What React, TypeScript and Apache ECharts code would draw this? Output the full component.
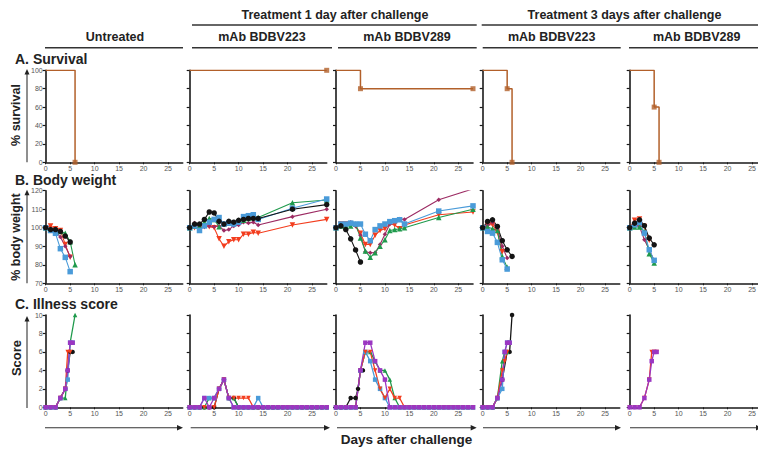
import React, { useEffect, useRef } from 'react';
import * as echarts from 'echarts';

const FONT = '"Liberation Sans", Arial, Helvetica, sans-serif';

// ---------- text ----------
const GROUP_HEADERS = ['Treatment 1 day after challenge', 'Treatment 3 days after challenge'];
const COL_HEADERS = ['Untreated', 'mAb BDBV223', 'mAb BDBV289', 'mAb BDBV223', 'mAb BDBV289'];
const ROW_TITLES = ['A. Survival', 'B. Body weight', 'C. Illness score'];
const Y_TITLES = ['% survival', '% body weight', 'Score'];
const X_TITLE = 'Days after challenge';

// ---------- survival (per column) ----------
const survDays = [[0, 6], [0, 28], [0, 5, 28], [0, 5, 6], [0, 5, 6]];
const survPct = [[100, 0], [100, 100], [100, 80, 80], [100, 80, 0], [100, 60, 0]];
const survMarkDays = [[6], [28], [5, 28], [5, 6], [5, 6]];
const survMarkPct = [[0], [100], [80, 80], [80, 0], [60, 0]];

// ---------- body weight ----------
// series order: black, blue, green, maroon, red
const bwDaysShort = [0, 1, 2, 3, 4, 5, 6];
const bwDaysLong = [0, 1, 2, 3, 4, 5, 6, 7, 8, 9, 10, 11, 12, 13, 14, 21, 28];
const bwUntreated = [
  [100, 99, 99, 98, 95.5, 92.3],
  [100, 98.5, 97, 88.7, 84, 76.3],
  [100, 99, 99, 98, 97, 92.5, 80],
  [100, 99, 98, 95, 90, 84.5],
  [100, 101, 99.5, 98.5, 91, 84],
];
const bw1d223 = [
  [100, 102, 102, 104.5, 108.5, 108, 103.5, 102, 103.5, 103, 104, 104.5, 105, 105, 105, 110, 112.5],
  [100, 101, 98.5, 101, 103, 104.5, 105.5, 102, 102.5, 102, 103, 106, 106.5, 107, 104.5, 110.5, 115.5],
  [100, 101, 101, 103, 105, 104.5, 100.5, 102, 102.5, 103, 104, 104, 105, 105.5, 105.5, 113.5, 115],
  [100, 102.5, 101, 100.5, 101, 100.5, 101, 98.5, 99, 101, 101.5, 103, 102.5, 103, 101.5, 106, 110],
  [100, 100, 100, 100.5, 100.5, 100, 94, 90, 92.5, 93.5, 93.5, 96.5, 96.5, 97.5, 97, 101.5, 104.5],
];
const bw1d289 = [
  [100, 101, 99, 94, 88, 81.5],
  [100, 102, 102, 102.5, 102, 102, 96.5, 93, 99, 101, 102, 103.3, 103.8, 104.3, 102, 109, 111.8],
  [100, 101, 101, 101, 102, 94.5, 87.5, 84, 86.5, 90, 93.5, 98.5, 99, 99.5, 100, 105.5, 110],
  [100, 102, 102, 103, 101, 96, 87, 86.5, 86.5, 91, 96.5, 102, 103.8, 104.7, 104.5, 115.1, 121],
  [100, 102, 102, 102, 101, 97, 91, 91, 96, 98.5, 99.5, 102, 101.5, 99.5, 101.5, 107, 108.5],
];
const bw3d223 = [
  [100, 103.4, 104.3, 100.7, 93, 88.1, 84.5],
  [100, 98, 97.1, 92.1, 82.7, 77.7],
  [100, 100.4, 99.5, 98.5, 84.5, 78.6],
  [100, 101.2, 102.9, 99.4, 90, 83.6],
  [100, 101.6, 101.6, 97.5, 87],
];
const bw3d289 = [
  [100, 102.5, 104.3, 101.1, 94.4, 90.8],
  [100, 101.6, 102.9, 97.1, 88.1, 82.4],
  [100, 100.4, 100.4, 98, 86, 81],
  [100, 101.9, 100.7, 93.5, 88.1, 82.2],
  [100, 104, 104.7, 100.7, 93.2],
];

// ---------- illness score ----------
// series order: black, blue, green, red, purple
const dailyDays = [0, 1, 2, 3, 4, 5, 6, 7, 8, 9, 10, 11, 12, 13, 14, 15, 16, 17, 18, 19, 20, 21, 22, 23, 24, 25, 26, 27, 28];
const illUntreatedDays = [
  [0, 1, 2, 3, 4, 4.5, 5, 5.5],
  [0, 1, 2, 3, 4, 4.5, 5, 5.5],
  [0, 1, 2, 3, 4, 5, 6],
  [0, 1, 2, 3, 4, 4.5, 5],
  [0, 1, 2, 3, 4, 4.5, 5, 5.5],
];
const illUntreated = [
  [0, 0, 0, 1, 2, 4, 6, 6],
  [0, 0, 0, 1, 2, 3, 7, 7],
  [0, 0, 0, 1, 1, 7, 10],
  [0, 0, 0, 1, 2, 6, 6],
  [0, 0, 0, 1, 2, 4, 7, 7],
];
const ill1d223 = [
  [0, 0, 0, 0, 0, 0, 2, 3, 1, 1, 0, 0, 0, 0, 0, 0, 0, 0, 0, 0, 0, 0, 0, 0, 0, 0, 0, 0, 0],
  [0, 0, 0, 1, 1, 1, 2, 3, 1, 0, 0, 0, 0, 0, 1, 0, 0, 0, 0, 0, 0, 0, 0, 0, 0, 0, 0, 0, 0],
  [0, 0, 0, 0, 1, 1, 2, 3, 1, 1, 0, 0, 0, 0, 0, 0, 0, 0, 0, 0, 0, 0, 0, 0, 0, 0, 0, 0, 0],
  [0, 0, 0, 0, 0, 0, 2, 3, 1, 1, 1, 1, 1, 0, 0, 0, 0, 0, 0, 0, 0, 0, 0, 0, 0, 0, 0, 0, 0],
  [0, 0, 0, 1, 0, 1, 2, 3, 1, 0, 0, 0, 0, 0, 0, 0, 0, 0, 0, 0, 0, 0, 0, 0, 0, 0, 0, 0, 0],
];
const ill1d289BlackDays = [0, 1, 2, 3, 4, 4.5, 5, 5.5];
const ill1d289 = [
  [0, 0, 0, 1, 1, 2, 4, 4],
  [0, 0, 0, 0, 0, 4, 6, 5, 3, 2, 1, 0, 0, 0, 0, 0, 0, 0, 0, 0, 0, 0, 0, 0, 0, 0, 0, 0, 0],
  [0, 0, 0, 0, 0, 4, 6, 6, 5, 4, 4, 3, 1, 0, 0, 0, 0, 0, 0, 0, 0, 0, 0, 0, 0, 0, 0, 0, 0],
  [0, 0, 0, 0, 0, 4, 6, 6, 4, 2, 1, 2, 1, 1, 0, 0, 0, 0, 0, 0, 0, 0, 0, 0, 0, 0, 0, 0, 0],
  [0, 0, 0, 0, 0, 4, 7, 7, 5, 4, 3, 0, 0, 0, 0, 0, 0, 0, 0, 0, 0, 0, 0, 0, 0, 0, 0, 0, 0],
];
const ill3d223Days = [
  [0, 1, 2, 3, 4, 5, 5.5, 6],
  [0, 1, 2, 3, 4, 4.5, 5, 5.5],
  [0, 1, 2, 3, 4, 4.5, 5],
  [0, 1, 2, 3, 4, 4.5, 5],
  [0, 1, 2, 3, 4, 4.5, 5, 5.5],
];
const ill3d223 = [
  [0, 0, 0, 1, 3, 6, 6, 10],
  [0, 0, 0, 1, 2, 6, 7, 7],
  [0, 0, 0, 1, 5, 6, 6],
  [0, 0, 0, 1, 4, 5, 6],
  [0, 0, 0, 1, 3, 6, 7, 7],
];
const ill3d289Days = [0, 1, 2, 3, 4, 4.5, 5, 5.5];
const ill3d289Red = [0, 0, 0, 1, 3, 6, 6, 6];
const ill3d289Purple = [0, 0, 0, 1, 3, 5, 6, 6];

// ---------- styles ----------
const C = {
  black: '#141414',
  blue: '#4a9bd9',
  green: '#1f9a4c',
  maroon: '#9c2b63',
  red: '#f33d1e',
  purple: '#9b36c2',
  surv: '#b2602a',
  axis: '#1a1a1a',
};
const BW_STYLE = [
  { color: C.black, symbol: 'circle', size: 5.5, rot: 0 },
  { color: C.blue, symbol: 'rect', size: 5.5, rot: 0 },
  { color: C.green, symbol: 'triangle', size: 5.5, rot: 0 },
  { color: C.maroon, symbol: 'diamond', size: 4.5, rot: 0 },
  { color: C.red, symbol: 'triangle', size: 5.5, rot: 180 },
];
const ILL_STYLE = [
  { color: C.black, symbol: 'circle', size: 4.5, rot: 0 },
  { color: C.blue, symbol: 'rect', size: 4.5, rot: 0 },
  { color: C.green, symbol: 'triangle', size: 4.5, rot: 0 },
  { color: C.red, symbol: 'triangle', size: 4.5, rot: 180 },
  { color: C.purple, symbol: 'rect', size: 4.5, rot: 0 },
];
const ILL_ORDER = [0, 2, 1, 3, 4];
const BW_ORDER = [4, 3, 2, 1, 0];

const COL_LEFT = [45.7, 189.7, 336, 482.7, 629.7];
const COL_W = 137;
const ROWS = [
  { top: 70.3, h: 92, min: 0, max: 100, interval: 20 },
  { top: 190.7, h: 92.6, min: 70, max: 120, interval: 10 },
  { top: 315, h: 92.3, min: 0, max: 10, interval: 2 },
];

function zip(xs: number[], ys: number[]) {
  return ys.map((y, i) => [xs[i], y]);
}

function buildOption() {
  const grid: any[] = [];
  const xAxis: any[] = [];
  const yAxis: any[] = [];
  const series: any[] = [];

  ROWS.forEach((r, ri) => {
    COL_LEFT.forEach((l, ci) => {
      const idx = ri * 5 + ci;
      grid.push({ left: l, top: r.top, width: COL_W, height: r.h, outerBoundsMode: 'none', containLabel: false });
      xAxis.push({
        type: 'value', gridIndex: idx, min: 0, max: 28, interval: 5,
        axisLine: { show: true, onZero: false, lineStyle: { color: C.axis, width: 1.6 } },
        axisTick: { show: true, length: 2, lineStyle: { color: C.axis, width: 1 } },
        axisLabel: { show: true, fontSize: 7, color: '#555', margin: 3, fontFamily: FONT, showMaxLabel: false },
        splitLine: { show: false },
      });
      yAxis.push({
        type: 'value', gridIndex: idx, min: r.min, max: r.max, interval: r.interval,
        axisLine: { show: true, onZero: false, lineStyle: { color: C.axis, width: 1.6 } },
        axisTick: { show: true, length: 3, lineStyle: { color: C.axis, width: 1.2 } },
        axisLabel: { show: ci === 0, fontSize: 7, color: '#555', margin: 3, fontFamily: FONT },
        splitLine: { show: false },
      });
    });
  });

  // survival
  for (let ci = 0; ci < 5; ci++) {
    const idx = ci;
    series.push({
      type: 'line', xAxisIndex: idx, yAxisIndex: idx, step: 'end',
      data: zip(survDays[ci], survPct[ci]), showSymbol: false, symbol: 'none',
      lineStyle: { color: C.surv, width: 1.5 }, z: 3,
    });
    series.push({
      type: 'scatter', xAxisIndex: idx, yAxisIndex: idx,
      data: zip(survMarkDays[ci], survMarkPct[ci]), symbol: 'rect', symbolSize: 5,
      itemStyle: { color: C.surv }, z: 4,
    });
  }

  // body weight
  const bwPanels = [bwUntreated, bw1d223, bw1d289, bw3d223, bw3d289];
  bwPanels.forEach((panel, ci) => {
    const idx = 5 + ci;
    BW_ORDER.forEach((si) => {
      const vals = panel[si];
      const xs = vals.length > 7 ? bwDaysLong : bwDaysShort;
      const st = BW_STYLE[si];
      series.push({
        type: 'line', xAxisIndex: idx, yAxisIndex: idx, data: zip(xs, vals),
        symbol: st.symbol, symbolSize: st.size, symbolRotate: st.rot, showSymbol: true,
        lineStyle: { color: st.color, width: 1.1 }, itemStyle: { color: st.color },
        clip: true, z: 3,
      });
    });
  });

  // illness
  const addIll = (idx: number, si: number, xs: number[], ys: number[]) => {
    const st = ILL_STYLE[si];
    series.push({
      type: 'line', xAxisIndex: idx, yAxisIndex: idx, data: zip(xs, ys),
      symbol: st.symbol, symbolSize: st.size, symbolRotate: st.rot, showSymbol: true,
      lineStyle: { color: st.color, width: 1.3 }, itemStyle: { color: st.color }, z: 3,
    });
  };
  ILL_ORDER.forEach((si) => addIll(10, si, illUntreatedDays[si], illUntreated[si]));
  ILL_ORDER.forEach((si) => addIll(11, si, dailyDays, ill1d223[si]));
  ILL_ORDER.forEach((si) => addIll(12, si, si === 0 ? ill1d289BlackDays : dailyDays, ill1d289[si]));
  ILL_ORDER.forEach((si) => addIll(13, si, ill3d223Days[si], ill3d223[si]));
  addIll(14, 3, ill3d289Days, ill3d289Red);
  addIll(14, 4, ill3d289Days, ill3d289Purple);

  // graphics
  const g: any[] = [];
  const text = (x: number, y: number, t: string, size: number, extra: any = {}) => ({
    type: 'text', x, y, silent: true, ...extra,
    style: { text: t, font: `bold ${size}px ${FONT}`, fill: '#222', align: 'center', verticalAlign: 'middle' },
  });
  const hline = (x1: number, x2: number, y: number) => ({
    type: 'line', silent: true, shape: { x1, y1: y, x2, y2: y }, style: { stroke: '#333', lineWidth: 1.6 },
  });

  g.push(text(335, 15, GROUP_HEADERS[0], 12.5));
  g.push(hline(192, 476.7, 25));
  g.push(text(624.5, 15, GROUP_HEADERS[1], 12.5));
  g.push(hline(481.7, 758, 25));

  const colCenters = [115, 262, 407, 551.7, 696.7];
  const colLines = [[45, 183], [192, 332], [338, 476.7], [482.7, 620.7], [629, 758]];
  COL_HEADERS.forEach((h, i) => {
    g.push(text(colCenters[i], 37, h, 12.5));
    g.push(hline(colLines[i][0], colLines[i][1], 47.7));
  });

  const rowTitleY = [59, 179.5, 303.5];
  ROW_TITLES.forEach((t, i) => {
    g.push({
      type: 'text', x: 15, y: rowTitleY[i], silent: true,
      style: { text: t, font: `bold 14px ${FONT}`, fill: '#222', align: 'left', verticalAlign: 'middle' },
    });
  });

  const yTitleCenters = [115, 237, 358];
  const yTitleSizes = [12.5, 12.5, 13];
  Y_TITLES.forEach((t, i) => {
    g.push(text(16, yTitleCenters[i], t, yTitleSizes[i], { rotation: Math.PI / 2 }));
  });

  // vertical arrows next to y-titles
  const vArrows = [[70, 162.3], [190.7, 283.3], [317, 408]];
  vArrows.forEach(([top, bottom]) => {
    g.push({ type: 'line', silent: true, shape: { x1: 27, y1: top + 3, x2: 27, y2: bottom }, style: { stroke: '#333', lineWidth: 1.1 } });
    g.push({ type: 'polygon', silent: true, shape: { points: [[27, top - 1], [24.5, top + 4.5], [29.5, top + 4.5]] }, style: { fill: '#222' } });
  });

  // horizontal arrows at bottom
  const hArrows = [[45, 183], [190.7, 330], [337, 476.7], [483, 621], [630, 762]];
  hArrows.forEach(([x1, x2]) => {
    g.push({ type: 'line', silent: true, shape: { x1, y1: 427.7, x2: x2 - 4, y2: 427.7 }, style: { stroke: '#333', lineWidth: 1.1 } });
    g.push({ type: 'polygon', silent: true, shape: { points: [[x2, 427.7], [x2 - 6, 425], [x2 - 6, 430.4]] }, style: { fill: '#222' } });
  });

  g.push(text(406.5, 439, X_TITLE, 13.5));

  return {
    animation: false,
    backgroundColor: '#ffffff',
    textStyle: { fontFamily: FONT },
    grid, xAxis, yAxis, series, graphic: g,
  };
}

export default function App() {
  const ref = useRef<HTMLDivElement>(null);
  useEffect(() => {
    if (!ref.current) return;
    const chart = echarts.init(ref.current, undefined, { renderer: 'svg' });
    chart.setOption(buildOption() as any);
    return () => chart.dispose();
  }, []);
  return <div ref={ref} style={{ position: 'fixed', left: 0, top: 0, width: 758, height: 452, background: '#fff' }} />;
}
